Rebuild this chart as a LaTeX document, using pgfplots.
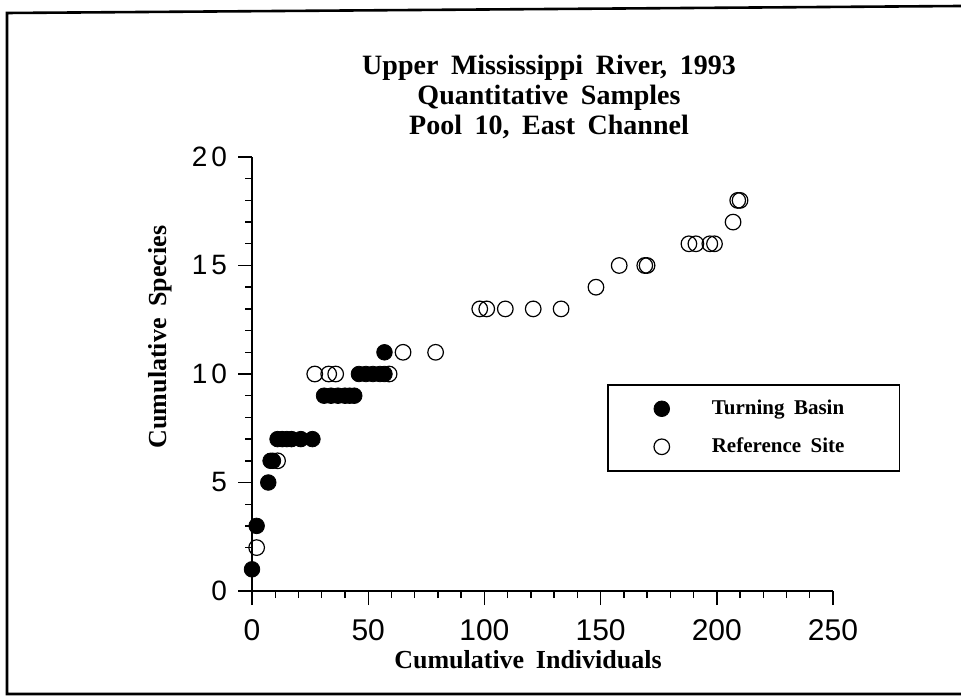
\documentclass[border=0pt]{standalone}
\usepackage{fontspec}
\setmainfont{Liberation Serif}
\setsansfont{Liberation Sans}
\usepackage{pgfplots}
\pgfplotsset{compat=1.18}

\newcommand\titlefont{\bfseries\fontsize{14}{15}\selectfont\spaceskip=0.45em\relax}
\newcommand\labelfont{\bfseries\fontsize{13}{14}\selectfont\spaceskip=0.45em\relax}
\newcommand\legfont{\bfseries\fontsize{10.5}{12}\selectfont\spaceskip=0.45em\relax}

\begin{document}
\begin{tikzpicture}[x=0.5pt,y=0.5pt]
\path[use as bounding box] (0,0) rectangle (961,696);
% scanned frame (open on the right)
\draw[line width=1.3pt] (961,690) -- (7,683) -- (7,2) -- (961,2);

\begin{axis}[
  at={(126pt,52.5pt)}, anchor=south west,
  scale only axis, width=290.5pt, height=217pt,
  xmin=0, xmax=250, ymin=0, ymax=20,
  axis lines=left, axis line style={-, line width=0.7pt},
  clip=false,
  tick align=outside,
  major tick length=7pt, minor tick length=3.5pt,
  tick style={black, line width=0.7pt},
  xtick={0,50,...,250}, ytick={0,5,...,20},
  minor x tick num=4, minor y tick num=4,
  xticklabels={0,50,100,150,200,250},
  yticklabels={0,5,1\hspace{2pt}0,1\hspace{2pt}5,2\hspace{2pt}0},
  ticklabel style={font=\sffamily\fontsize{15}{16}\selectfont},
  xticklabel style={yshift=-3.5pt},
  yticklabel style={xshift=-2pt, font=\sffamily\fontsize{14}{16}\selectfont},
  legend cell align=left,
  legend image code/.code={%
    \path[draw=none, fill=none] (-8pt,-9.5pt) rectangle (8pt,9.5pt);
    \draw[#1] plot coordinates {(0pt,0pt)};},
  legend style={at={(0.611,0.477)}, anchor=north west,
    draw=black, line width=0.8pt, font=\legfont,
    inner xsep=19pt, inner ysep=2.5pt, row sep=0pt, column sep=15pt},
]
% Turning Basin
\addplot[only marks, mark=*, mark size=3.9pt,
  mark options={fill=black, draw=black, line width=0.4pt}]
coordinates {
  (0,1) (2,3) (7,5) (8,6) (9,6)
  (11,7) (13,7) (15,7) (17,7) (21,7) (26,7)
  (31,9) (34,9) (37,9) (40,9) (42,9) (44,9)
  (46,10) (49,10) (52,10) (55,10) (57,10)
  (57,11)
};
\addlegendentry{Turning Basin}
% Reference Site
\addplot[only marks, mark=o, mark size=3.9pt,
  mark options={draw=black, line width=0.6pt, fill=none}]
coordinates {
  (2,2) (11,6)
  (27,10) (33,10) (36,10) (59,10)
  (65,11) (79,11)
  (98,13) (101,13) (109,13) (121,13) (133,13)
  (148,14)
  (158,15) (169,15) (170,15)
  (188,16) (191,16) (197,16) (199,16)
  (207,17) (209,18) (210,18)
};
\addlegendentry{Reference Site\hspace*{6.5pt}\mbox{}}
\end{axis}

\node[font=\titlefont, align=center] at (549,599)
  {Upper Mississippi River, 1993\\Quantitative Samples\\Pool 10, East Channel};
\node[font=\labelfont] at (528,36) {Cumulative Individuals};
\node[font=\labelfont, rotate=90] at (160,359) {Cumulative Species};
\end{tikzpicture}
\end{document}
